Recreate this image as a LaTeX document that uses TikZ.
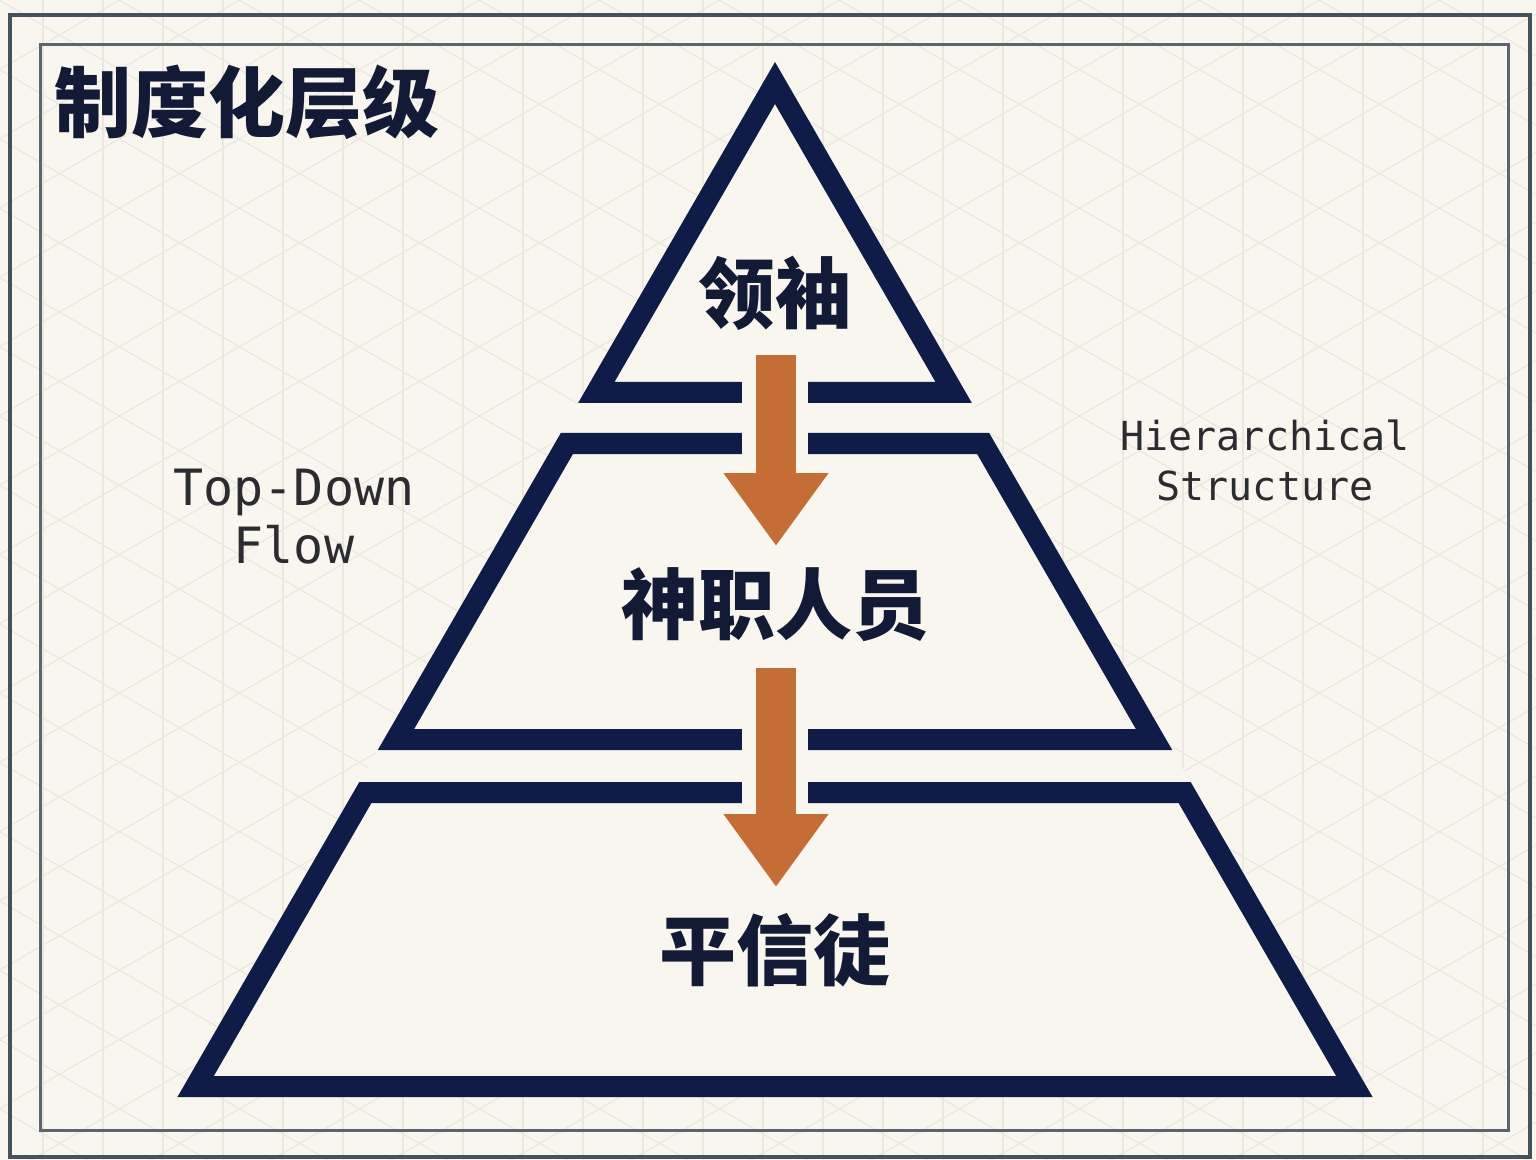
\documentclass[tikz,border=0pt]{standalone}
\usepackage{fontspec}
\newfontfamily\cjk{Noto Sans CJK SC}
\newfontfamily\mono{DejaVu Sans Mono}
\usetikzlibrary{arrows.meta}
\definecolor{bgcol}{HTML}{F8F6EF}
\definecolor{gridcol}{HTML}{EAE7DF}
\definecolor{navy}{HTML}{0F1C48}
\definecolor{cjknavy}{HTML}{121A36}
\definecolor{monogray}{HTML}{2A2C30}
\definecolor{framecol}{HTML}{46525C}
\definecolor{innerframecol}{HTML}{5C656C}
\definecolor{arrowcol}{HTML}{C56D36}
\newcommand\pyrLx[1]{775-0.57735*(#1-62)}
\newcommand\pyrRx[1]{775+0.57735*(#1-62)}
\newcommand\pyrband[2]{%
  \fill[navy,even odd rule]
    ({\pyrLx{#1}},#1) -- ({\pyrRx{#1}},#1) -- ({\pyrRx{#2}},#2) -- ({\pyrLx{#2}},#2) -- cycle
    ({\pyrLx{#1+21}+24.25},#1+21) -- ({\pyrRx{#1+21}-24.25},#1+21) -- ({\pyrRx{#2-21}-24.25},#2-21) -- ({\pyrLx{#2-21}+24.25},#2-21) -- cycle;}
\tikzset{
  gridline/.style={draw=gridcol,line width=0.6pt},
  outerframe/.style={draw=framecol,line width=1.6pt},
  innerframe/.style={draw=innerframecol,line width=1.5pt},
  lvl/.style={inner sep=0pt,text=cjknavy,font=\cjk\bfseries\fontsize{38.5}{40}\selectfont},
  titletext/.style={inner sep=0pt,text=cjknavy,font=\cjk\bfseries\fontsize{38.5}{40}\selectfont},
  monolabel/.style={inner sep=0pt,text=monogray,align=center},
  flowarrow/.style={draw=arrowcol,line width=20pt,-{Triangle[width=50pt,length=36.5pt]}}
}
\begin{document}
\begin{tikzpicture}[x=0.5pt,y=-0.5pt]
\useasboundingbox (0,0) rectangle (1536,1160);
\fill[bgcol] (0,0) rectangle (1536,1160);
% background grid
\begin{scope}
\clip (0,0) rectangle (1536,1160);
\foreach \i in {0,...,25} \draw[gridline] ({43+60*\i},0) -- ({43+60*\i},1160);
\foreach \i in {0,...,31} {
  \draw[gridline] (0,{-900+69.28*\i}) -- (1536,{-900+69.28*\i+886.8});
  \draw[gridline] (0,{69.28*\i}) -- (1536,{69.28*\i-886.8});
}
\end{scope}
% frames
\draw[outerframe] (10,15) rectangle (1530,1157);
\draw[innerframe] (40,45) rectangle (1508,1130);
% pyramid interior
\fill[bgcol] (775,62) -- ({\pyrRx{1097}},1097) -- ({\pyrLx{1097}},1097) -- cycle;
% top triangle
\fill[navy,even odd rule]
  (775,62) -- ({\pyrRx{403}},403) -- ({\pyrLx{403}},403) -- cycle
  (775,104) -- ({\pyrRx{382}-24.25},382) -- ({\pyrLx{382}+24.25},382) -- cycle;
% middle and bottom bands
\pyrband{433}{750}
\pyrband{782}{1097}
% gaps for the arrows
\fill[bgcol] (742,378) rectangle (808,458);
\fill[bgcol] (742,725) rectangle (808,807);
% labels
\node[titletext,anchor=west] (title) at (54,102) {制度化层级};
\node[lvl] (leader) at (775,293) {领袖};
\node[lvl] (clergy) at (775,605) {神职人员};
\node[lvl] (laity) at (775,950) {平信徒};
\node[monolabel,font=\mono\fontsize{25}{29}\selectfont] (flow) at (294,517) {Top-Down\\Flow};
\node[monolabel,font=\mono\fontsize{20}{25}\selectfont] (hier) at (1265,460) {Hierarchical\\Structure};
% arrows
\coordinate (a1s) at (776,355);
\coordinate (a1e) at (776,546);
\coordinate (a2s) at (776,668);
\coordinate (a2e) at (776,887);
\draw[flowarrow] (a1s) -- (a1e);
\draw[flowarrow] (a2s) -- (a2e);
\end{tikzpicture}
\end{document}
